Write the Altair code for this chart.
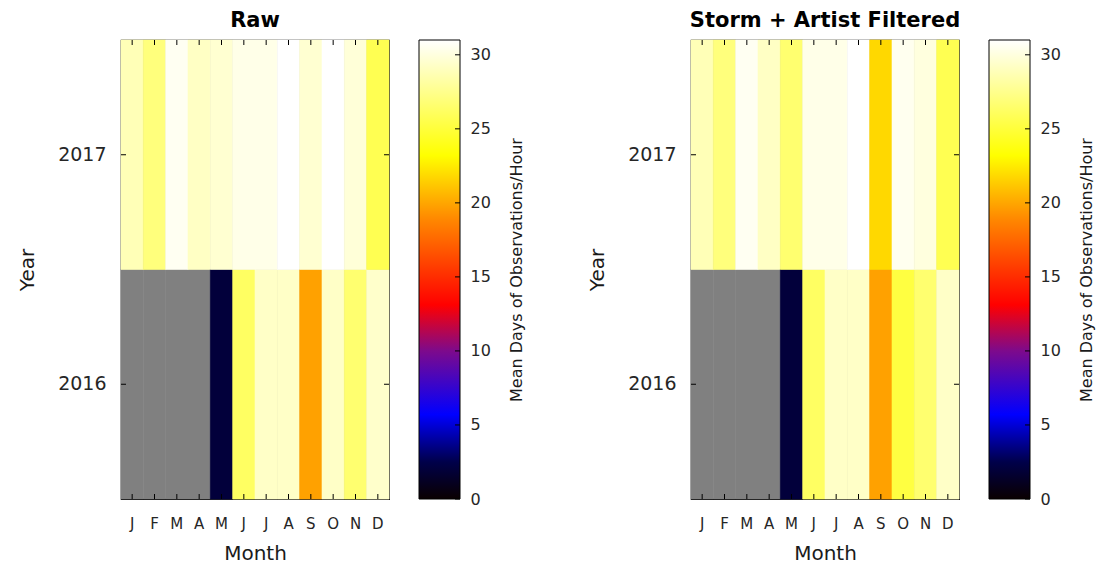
import altair as alt
import pandas as pd

months = list(range(1, 13))
month_labels = ["J", "F", "M", "A", "M", "J", "J", "A", "S", "O", "N", "D"]
years = ["2016", "2017"]

raw_2016 = [None, None, None, None, 2.0, 26.2, 29.3, 29.3, 19.8, 29.3, 26.6, 29.4]
raw_2017 = [28.8, 27.0, 30.6, 29.2, 29.6, 30.3, 30.3, 31.0, 29.6, 31.0, 29.8, 25.7]
filt_2016 = [None, None, None, None, 2.0, 26.2, 29.3, 29.3, 19.8, 25.2, 26.6, 29.3]
filt_2017 = [28.8, 27.0, 30.6, 29.2, 26.6, 30.3, 30.3, 31.0, 21.8, 30.5, 30.0, 25.7]

cmap_domain = [0, 2.5, 5.7, 10, 13.1, 18.9, 23.2, 31]
cmap_range = ["#0a0000", "#00004a", "#0000ff", "#7d0a8c", "#ff0000", "#ff8800", "#ffff00", "#ffffff"]
cbar_min, cbar_max = 0, 31
cbar_ticks = [0, 5, 10, 15, 20, 25, 30]
cbar_title = "Mean Days of Observations/Hour"

FONT = "DejaVu Sans"
W, H = 268, 459
CW = 41

label_expr = "[" + ",".join("'%s'" % m for m in month_labels) + "][datum.value - 1]"


def heat(title, v2016, v2017):
    rows = []
    for m, a, b in zip(months, v2016, v2017):
        rows.append({"month": m, "year": years[0], "value": a})
        rows.append({"month": m, "year": years[1], "value": b})
    df = pd.DataFrame(rows)

    x = alt.X("month:O", scale=alt.Scale(paddingInner=0, paddingOuter=0),
              axis=alt.Axis(title="Month", labelExpr=label_expr, labelAngle=0,
                            ticks=False, domain=False, labelPadding=17,
                            labelFontSize=15, titleFontSize=20, titleFontWeight="normal",
                            titlePadding=12, labelColor="#262626", titleColor="#1a1a1a"))
    y = alt.Y("year:O", sort="descending", scale=alt.Scale(paddingInner=0, paddingOuter=0),
              axis=alt.Axis(title="Year", ticks=False, domain=False, labelPadding=15,
                            labelFontSize=19, titleFontSize=20, titleFontWeight="normal",
                            titlePadding=20, labelColor="#262626", titleColor="#1a1a1a"))

    cscale = alt.Scale(domain=cmap_domain, range=cmap_range, interpolate="rgb")
    bg = alt.Chart(df).mark_rect(color="#808080", stroke="#808080", strokeWidth=0.6).encode(x=x, y=y)
    fg = alt.Chart(df).transform_filter("isValid(datum.value)").mark_rect(strokeWidth=0.6).encode(
        x=x, y=y,
        color=alt.Color("value:Q", scale=cscale, legend=None),
        stroke=alt.Stroke("value:Q", scale=cscale, legend=None))

    mdf = pd.DataFrame({"month": months})
    ydf = pd.DataFrame({"year": years})
    t_top = alt.Chart(mdf).mark_rule(color="black").encode(x=x, y=alt.value(0), y2=alt.value(5))
    t_bot = alt.Chart(mdf).mark_rule(color="black").encode(x=x, y=alt.value(H), y2=alt.value(H - 5))
    t_left = alt.Chart(ydf).mark_rule(color="black").encode(y=y, x=alt.value(0), x2=alt.value(5))
    t_right = alt.Chart(ydf).mark_rule(color="black").encode(y=y, x=alt.value(W), x2=alt.value(W - 5))

    return alt.layer(bg, fg, t_top, t_bot, t_left, t_right).properties(
        width=W, height=H,
        title=alt.TitleParams(title, fontSize=21, fontWeight="bold", offset=9, color="black"))


def colorbar():
    stops = [alt.GradientStop(offset=(d - cbar_min) / (cbar_max - cbar_min), color=c)
             for d, c in zip(cmap_domain, cmap_range)]
    grad = alt.LinearGradient(gradient="linear", stops=stops, x1=0, x2=0, y1=1, y2=0)
    ys = alt.Y("lo:Q", scale=alt.Scale(domain=[cbar_min, cbar_max], nice=False, zero=False),
               axis=alt.Axis(orient="right", values=cbar_ticks, title=cbar_title,
                             titleAngle=270, titleFontSize=16, titleFontWeight="normal",
                             titlePadding=18, titleColor="#1a1a1a", titleBaseline="top",
                             labelFontSize=16, labelColor="#262626", labelPadding=10,
                             ticks=False, domain=False, grid=False))
    cdf = pd.DataFrame({"lo": [cbar_min], "hi": [cbar_max]})
    bar = alt.Chart(cdf).mark_rect(fill=grad, stroke="black", strokeWidth=1).encode(
        y=ys, y2="hi:Q", x=alt.value(0), x2=alt.value(CW))
    tdf = pd.DataFrame({"t": cbar_ticks})
    ticks = alt.Chart(tdf).mark_rule(color="black").encode(
        y=alt.Y("t:Q", scale=alt.Scale(domain=[cbar_min, cbar_max], nice=False, zero=False)),
        x=alt.value(CW - 5), x2=alt.value(CW))
    return alt.layer(bar, ticks).properties(width=CW, height=H, view=alt.ViewConfig(stroke=None))


left = alt.hconcat(heat("Raw", raw_2016, raw_2017), colorbar(), spacing=27)
right = alt.hconcat(heat("Storm + Artist Filtered", filt_2016, filt_2017), colorbar(), spacing=27)

chart = alt.hconcat(left, right, spacing=62).properties(
    padding={"left": 17, "top": 8, "right": 5, "bottom": 5}).configure(
    font=FONT).configure_view(stroke="black", strokeWidth=1.2).configure_title(font=FONT).configure_axis(
    labelFont=FONT, titleFont=FONT)

chart.save("out.html", embed_options={"renderer": "svg", "actions": False})
